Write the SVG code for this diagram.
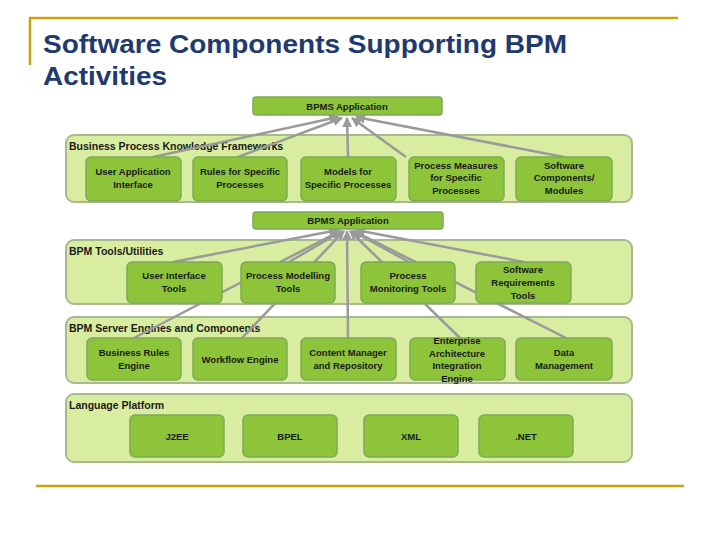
<svg xmlns="http://www.w3.org/2000/svg" width="720" height="540" viewBox="0 0 720 540">
<defs>
<marker id="ah" viewBox="0 0 10 10" refX="9" refY="5" markerWidth="4" markerHeight="4" orient="auto"><path d="M0,0 L10,5 L0,10 z" fill="#9a9a9a"/></marker>
<style>
.pn{fill:#D9EDA0;stroke:#A9B98F;stroke-width:2}
.nd{fill:#8DC43A;stroke:#7FA85A;stroke-width:1.5}
.t{font-family:"Liberation Sans",Arial,sans-serif;font-weight:bold;font-size:9.5px;fill:#1a1a1a;text-anchor:middle}
.pl{font-family:"Liberation Sans",Arial,sans-serif;font-weight:bold;font-size:10.5px;fill:#1a1a1a}
.c{stroke:#9a9a9a;stroke-width:2.5;fill:none;marker-end:url(#ah)}
.g{stroke:#C9A30A;stroke-width:2.5;fill:none}
.ti{font-family:"Liberation Sans",Arial,sans-serif;font-weight:bold;font-size:26px;fill:#1F3A6E}
</style>
</defs>
<rect width="720" height="540" fill="#fff"/>
<path class="g" d="M30,65 V18 H678"/>
<path class="g" d="M36,486 H684"/>
<text class="ti" x="43" y="53" textLength="524" lengthAdjust="spacingAndGlyphs">Software Components Supporting BPM</text>
<text class="ti" x="43" y="85" textLength="124" lengthAdjust="spacingAndGlyphs">Activities</text>
<g id="panels">
<rect class="pn" x="66" y="135" width="566" height="67" rx="8"/>
<text class="pl" x="69" y="150">Business Process Knowledge Frameworks</text>
<rect class="pn" x="66" y="240" width="566" height="64" rx="8"/>
<text class="pl" x="69" y="255">BPM Tools/Utilities</text>
<rect class="pn" x="66" y="317" width="566" height="66" rx="8"/>
<text class="pl" x="69" y="332">BPM Server Engines and Components</text>
<rect class="pn" x="66" y="394" width="566" height="68" rx="8"/>
<text class="pl" x="69" y="409">Language Platform</text>
</g>
<g id="connectors">
<line class="c" x1="153" y1="157" x2="338" y2="117"/>
<line class="c" x1="238" y1="157" x2="342" y2="118"/>
<line class="c" x1="348" y1="157" x2="347" y2="118"/>
<line class="c" x1="406" y1="157" x2="352" y2="118"/>
<line class="c" x1="564" y1="157" x2="356" y2="117"/>
<line class="c" x1="173" y1="262" x2="338" y2="230"/>
<line class="c" x1="289" y1="262" x2="342" y2="231"/>
<line class="c" x1="409" y1="262" x2="352" y2="231"/>
<line class="c" x1="524" y1="262" x2="356" y2="230"/>
<line class="c" x1="134" y1="338" x2="340" y2="231"/>
<line class="c" x1="242" y1="338" x2="344" y2="231"/>
<line class="c" x1="348" y1="338" x2="347" y2="231"/>
<line class="c" x1="460" y1="338" x2="350" y2="231"/>
<line class="c" x1="566" y1="338" x2="354" y2="231"/>
</g>
<g id="bpms1"><rect class="nd" x="253" y="97" width="189" height="18" rx="3"/><text class="t" x="347" y="110">BPMS Application</text></g>
<g id="bpms2"><rect class="nd" x="253" y="212" width="190" height="17" rx="3"/><text class="t" x="348" y="224">BPMS Application</text></g>
<g id="n11"><rect class="nd" x="86" y="157" width="95" height="44" rx="5"/><text class="t" x="133" y="175">User Application</text><text class="t" x="133" y="188">Interface</text></g>
<g id="n12"><rect class="nd" x="193" y="157" width="94" height="44" rx="5"/><text class="t" x="240" y="175">Rules for Specific</text><text class="t" x="240" y="188">Processes</text></g>
<g id="n13"><rect class="nd" x="301" y="157" width="95" height="44" rx="5"/><text class="t" x="348" y="175">Models for</text><text class="t" x="348" y="188">Specific Processes</text></g>
<g id="n14"><rect class="nd" x="409" y="157" width="95" height="44" rx="5"/><text class="t" x="456" y="169">Process Measures</text><text class="t" x="456" y="181">for Specific</text><text class="t" x="456" y="194">Processes</text></g>
<g id="n15"><rect class="nd" x="516" y="157" width="96" height="44" rx="5"/><text class="t" x="564" y="169">Software</text><text class="t" x="564" y="181">Components/</text><text class="t" x="564" y="194">Modules</text></g>
<g id="n21"><rect class="nd" x="127" y="262" width="95" height="41" rx="5"/><text class="t" x="174" y="279">User Interface</text><text class="t" x="174" y="292">Tools</text></g>
<g id="n22"><rect class="nd" x="241" y="262" width="94" height="41" rx="5"/><text class="t" x="288" y="279">Process Modelling</text><text class="t" x="288" y="292">Tools</text></g>
<g id="n23"><rect class="nd" x="361" y="262" width="94" height="41" rx="5"/><text class="t" x="408" y="279">Process</text><text class="t" x="408" y="292">Monitoring Tools</text></g>
<g id="n24"><rect class="nd" x="476" y="262" width="95" height="41" rx="5"/><text class="t" x="523" y="273">Software</text><text class="t" x="523" y="286">Requirements</text><text class="t" x="523" y="299">Tools</text></g>
<g id="n31"><rect class="nd" x="87" y="338" width="94" height="42" rx="5"/><text class="t" x="134" y="356">Business Rules</text><text class="t" x="134" y="369">Engine</text></g>
<g id="n32"><rect class="nd" x="193" y="338" width="94" height="42" rx="5"/><text class="t" x="240" y="363">Workflow Engine</text></g>
<g id="n33"><rect class="nd" x="301" y="338" width="95" height="42" rx="5"/><text class="t" x="348" y="356">Content Manager</text><text class="t" x="348" y="369">and Repository</text></g>
<g id="n34"><rect class="nd" x="410" y="338" width="95" height="42" rx="5"/><text class="t" x="457" y="344">Enterprise</text><text class="t" x="457" y="357">Architecture</text><text class="t" x="457" y="369">Integration</text><text class="t" x="457" y="382">Engine</text></g>
<g id="n35"><rect class="nd" x="516" y="338" width="96" height="42" rx="5"/><text class="t" x="564" y="356">Data</text><text class="t" x="564" y="369">Management</text></g>
<g id="n41"><rect class="nd" x="130" y="415" width="94" height="42" rx="5"/><text class="t" x="177" y="440">J2EE</text></g>
<g id="n42"><rect class="nd" x="243" y="415" width="94" height="42" rx="5"/><text class="t" x="290" y="440">BPEL</text></g>
<g id="n43"><rect class="nd" x="364" y="415" width="94" height="42" rx="5"/><text class="t" x="411" y="440">XML</text></g>
<g id="n44"><rect class="nd" x="479" y="415" width="94" height="42" rx="5"/><text class="t" x="526" y="440">.NET</text></g>
</svg>
